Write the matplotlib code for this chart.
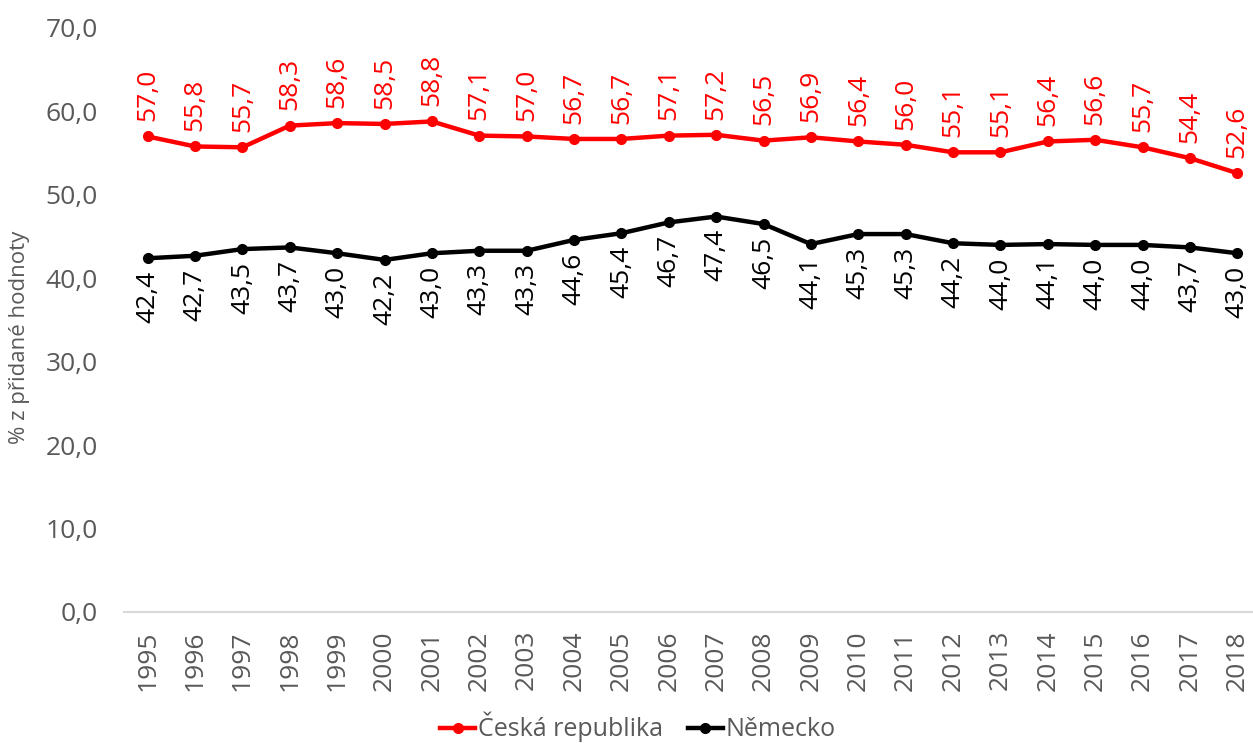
import matplotlib
matplotlib.use("Agg")
import matplotlib.pyplot as plt

years = [str(y) for y in range(1995, 2019)]
cz = [57.0, 55.8, 55.7, 58.3, 58.6, 58.5, 58.8, 57.1, 57.0, 56.7, 56.7, 57.1,
      57.2, 56.5, 56.9, 56.4, 56.0, 55.1, 55.1, 56.4, 56.6, 55.7, 54.4, 52.6]
de = [42.4, 42.7, 43.5, 43.7, 43.0, 42.2, 43.0, 43.3, 43.3, 44.6, 45.4, 46.7,
      47.4, 46.5, 44.1, 45.3, 45.3, 44.2, 44.0, 44.1, 44.0, 44.0, 43.7, 43.0]
series_names = ["Česká republika", "Německo"]
yticks = [0, 10, 20, 30, 40, 50, 60, 70]

plt.rcParams['font.family'] = ['Open Sans', 'DejaVu Sans']

W, H = 1253, 743
fig = plt.figure(figsize=(W / 100, H / 100), dpi=100)
left = 124 / W
bottom = 1 - 612 / H
top = 1 - 28 / H
right = 1261 / W
ax = fig.add_axes([left, bottom, right - left, top - bottom])

x = list(range(len(years)))
ax.plot(x, cz, color='#ff0000', lw=3.2, marker='o', ms=7, label=series_names[0], zorder=3)
ax.plot(x, de, color='#000000', lw=3.2, marker='o', ms=7, label=series_names[1], zorder=3)

def fmt(v):
    return f"{v:.1f}".replace('.', ',')

for xi, v in zip(x, cz):
    ax.annotate(fmt(v), (xi, v), xytext=(0, 11), textcoords='offset points',
                rotation=90, ha='center', va='bottom', color='#ff0000', fontsize=19)
for xi, v in zip(x, de):
    ax.annotate(fmt(v), (xi, v), xytext=(0, -9), textcoords='offset points',
                rotation=90, ha='center', va='top', color='#000000', fontsize=19)

ax.set_xlim(-0.5, len(years) - 0.5)
ax.set_ylim(0, 70)
ax.set_yticks(yticks)
ax.set_yticklabels([fmt(t) for t in yticks])
ax.set_xticks(x)
ax.set_xticklabels(years, rotation=90)
ax.tick_params(axis='y', length=0, pad=19, labelsize=19, labelcolor='#595959')
ax.tick_params(axis='x', length=0, pad=13, labelsize=19, labelcolor='#595959')
for s in ['top', 'right', 'left']:
    ax.spines[s].set_visible(False)
ax.spines['bottom'].set_color('#d9d9d9')
ax.spines['bottom'].set_linewidth(1.5)

fig.text(20 / W, 1 - 337 / H, "% z přidané hodnoty", rotation=90, ha='center', va='center',
         fontsize=16, color='#595959')

leg = fig.legend(loc='center', bbox_to_anchor=(638 / W, 1 - 727 / H), ncol=2, frameon=False,
                 fontsize=18, handlelength=1.4, handletextpad=0.1, columnspacing=1.0,
                 labelcolor='#595959')

fig.savefig('out.png', dpi=100)
